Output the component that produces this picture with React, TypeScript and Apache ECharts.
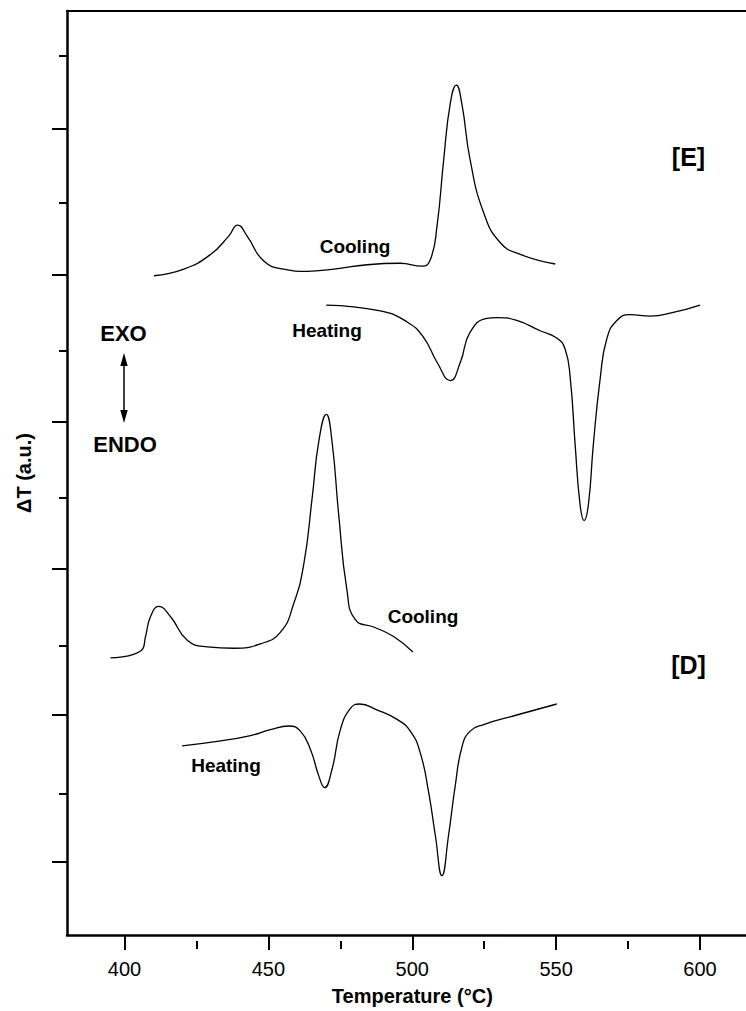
import React, { useEffect, useRef } from "react";
import * as echarts from "echarts";

// Axis ticks
const xTicksMajor = [400, 450, 500, 550, 600];
const xTicksMinor = [425, 475, 525, 575];
const yTicksMajor = [1, 3, 5, 7, 9, 11];
const yTicksMinor = [2, 4, 6, 8, 10, 12];

// [E] cooling (Temperature °C, ΔT a.u.)
const eCooling: [number, number][] = [
  [410.2, 8.99], [420.6, 9.08], [429.9, 9.28], [436.2, 9.53], [439.3, 9.68],
  [442.6, 9.53], [448.4, 9.19], [455.3, 9.08], [463.4, 9.05], [472.7, 9.08],
  [484.3, 9.14], [495.8, 9.16], [503.4, 9.12], [506.3, 9.21], [508.6, 9.67],
  [510.9, 10.57], [513.2, 11.34], [515.3, 11.59], [517.2, 11.34], [520.1, 10.57],
  [524.8, 9.85], [530.6, 9.44], [537.5, 9.28], [549.7, 9.15],
];

// [E] heating
const eHeating: [number, number][] = [
  [470.1, 8.59], [488.9, 8.51], [498.2, 8.36], [503.9, 8.15], [508.6, 7.81],
  [513.2, 7.56], [516.7, 7.81], [520.1, 8.22], [525.9, 8.41], [529.4, 8.42],
  [536.3, 8.38], [544.4, 8.24], [550.2, 8.14], [553.1, 7.99], [554.9, 7.59],
  [556.6, 6.68], [558.3, 5.87], [559.7, 5.65], [561.2, 5.87], [562.9, 6.68],
  [565.3, 7.59], [567.6, 8.13], [571.1, 8.38], [575.7, 8.46], [582.6, 8.44],
  [590.7, 8.49], [600.0, 8.59],
];

// [D] cooling
const dCooling: [number, number][] = [
  [395.1, 3.78], [405.8, 3.88], [407.3, 4.07], [409.0, 4.34], [411.9, 4.48],
  [416.0, 4.34], [421.8, 4.02], [428.7, 3.93], [438.0, 3.91], [447.2, 3.97],
  [454.2, 4.13], [458.8, 4.52], [462.3, 5.06], [465.2, 5.96], [467.5, 6.73],
  [470.1, 7.10], [472.1, 6.73], [474.4, 5.74], [477.3, 4.70], [480.2, 4.30],
  [486.6, 4.20], [493.5, 4.07], [500.2, 3.86],
];

// [D] heating
const dHeating: [number, number][] = [
  [420.0, 2.58], [432.2, 2.64], [443.8, 2.72], [450.7, 2.80], [457.1, 2.85],
  [461.1, 2.78], [464.6, 2.53], [467.5, 2.17], [469.5, 2.01], [472.1, 2.26],
  [475.0, 2.80], [478.5, 3.09], [481.7, 3.15], [487.7, 3.07], [494.7, 2.94],
  [499.3, 2.78], [502.8, 2.48], [505.7, 1.94], [508.0, 1.36], [510.3, 0.81],
  [512.6, 1.36], [514.9, 2.03], [517.3, 2.57], [520.1, 2.78], [524.8, 2.87],
  [536.3, 3.00], [550.2, 3.15],
];

const FONT = '"Liberation Sans", Arial, Helvetica, sans-serif';
const CONTAINER_W = 800;

export default function App() {
  const ref = useRef<HTMLDivElement>(null);

  useEffect(() => {
    if (!ref.current) return;
    const chart = echarts.init(ref.current, undefined, { renderer: "svg" });

    // container is wider than the 746 window so the plot's right edge (620 °C) falls off-page
    const gridBox = { left: 67, top: 11, right: CONTAINER_W - 757.6, bottom: 70 };
    const lineSeries = (name: string, data: [number, number][]) => ({
      type: "line",
      name,
      data,
      xAxisIndex: 0,
      yAxisIndex: 0,
      showSymbol: false,
      symbol: "none",
      smooth: 0.5,
      silent: true,
      lineStyle: { color: "#000", width: 1.3 },
      z: 3,
    });

    const txt = (text: string, x: number, y: number, size: number) => ({
      type: "text",
      x,
      y,
      silent: true,
      style: {
        text,
        font: `bold ${size}px ${FONT}`,
        fill: "#000",
        align: "center",
        verticalAlign: "middle",
        textAlign: "center",
        textVerticalAlign: "middle",
      },
    });

    chart.setOption({
      animation: false,
      backgroundColor: "#fff",
      grid: [
        { ...gridBox, show: false },
        { ...gridBox, show: false },
      ],
      xAxis: [
        {
          type: "value",
          gridIndex: 0,
          min: 380,
          max: 620,
          position: "bottom",
          axisLine: { show: true, lineStyle: { color: "#000", width: 2.5 } },
          axisTick: { show: true, customValues: xTicksMajor, length: 15, lineStyle: { color: "#000", width: 2 } },
          axisLabel: { show: true, customValues: xTicksMajor, margin: 24, fontSize: 20, color: "#000", fontFamily: FONT },
          splitLine: { show: false },
          name: "Temperature (°C)",
          nameLocation: "middle",
          nameGap: 51,
          nameTextStyle: { fontSize: 20, fontWeight: "bold", color: "#000", fontFamily: FONT },
        },
        {
          type: "value",
          gridIndex: 1,
          min: 380,
          max: 620,
          position: "bottom",
          axisLine: { show: false },
          axisTick: { show: true, customValues: xTicksMinor, length: 8, lineStyle: { color: "#000", width: 2 } },
          axisLabel: { show: false },
          splitLine: { show: false },
        },
      ],
      yAxis: [
        {
          type: "value",
          gridIndex: 0,
          min: 0,
          max: 12.6,
          position: "left",
          axisLine: { show: true, lineStyle: { color: "#000", width: 2.5 } },
          axisTick: { show: true, customValues: yTicksMajor, length: 15, lineStyle: { color: "#000", width: 2 } },
          axisLabel: { show: false },
          splitLine: { show: false },
          name: "ΔT (a.u.)",
          nameLocation: "middle",
          nameGap: 33,
          nameTextStyle: { fontSize: 20, fontWeight: "bold", color: "#000", fontFamily: FONT },
        },
        {
          type: "value",
          gridIndex: 1,
          min: 0,
          max: 12.6,
          position: "left",
          axisLine: { show: false },
          axisTick: { show: true, customValues: yTicksMinor, length: 8, lineStyle: { color: "#000", width: 2 } },
          axisLabel: { show: false },
          splitLine: { show: false },
        },
      ],
      series: [
        lineSeries("[E] Cooling", eCooling),
        lineSeries("[E] Heating", eHeating),
        lineSeries("[D] Cooling", dCooling),
        lineSeries("[D] Heating", dHeating),
      ],
      graphic: [
        {
          type: "line",
          silent: true,
          shape: { x1: 66, y1: 11, x2: CONTAINER_W, y2: 11 },
          style: { stroke: "#000", lineWidth: 2 },
        },
        txt("[E]", 688.5, 157, 25),
        txt("[D]", 688.5, 665, 25),
        txt("Cooling", 355, 246, 19),
        txt("Heating", 327, 330, 19),
        txt("Cooling", 423, 616, 19),
        txt("Heating", 226, 765, 19),
        txt("EXO", 123.5, 333, 22),
        txt("ENDO", 125, 444, 22),
        {
          type: "line",
          silent: true,
          shape: { x1: 124, y1: 362, x2: 124, y2: 414 },
          style: { stroke: "#000", lineWidth: 1.5 },
        },
        {
          type: "polygon",
          silent: true,
          shape: { points: [[124, 353], [120.3, 366], [127.7, 366]] },
          style: { fill: "#000" },
        },
        {
          type: "polygon",
          silent: true,
          shape: { points: [[124, 423], [120.3, 410], [127.7, 410]] },
          style: { fill: "#000" },
        },
      ],
    });

    return () => {
      chart.dispose();
    };
  }, []);

  return (
    <div
      ref={ref}
      style={{ position: "fixed", left: 0, top: 0, width: CONTAINER_W, height: 1011, background: "#fff" }}
    />
  );
}
